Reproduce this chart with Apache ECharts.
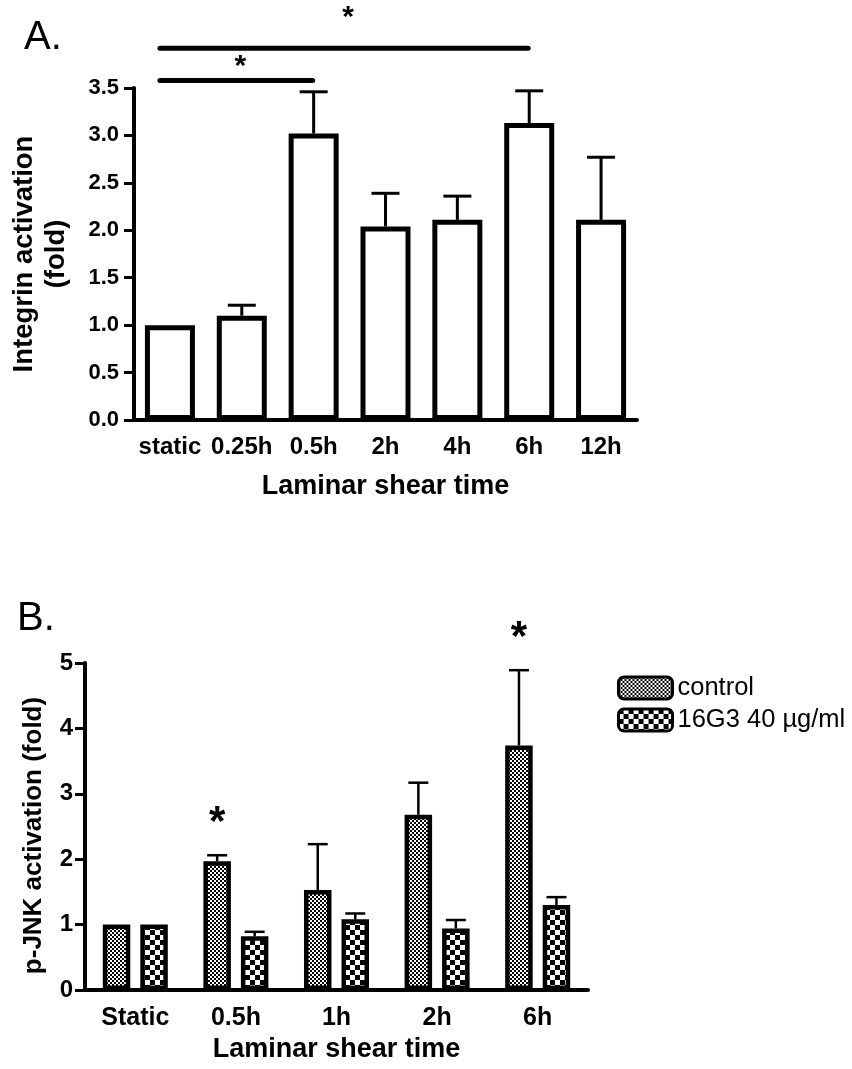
<!DOCTYPE html>
<html><head><meta charset="utf-8">
<script src="https://cdn.jsdelivr.net/npm/echarts@6/dist/echarts.min.js"></script>
<style>html,body{margin:0;padding:0;background:#fff}#c{width:852px;height:1069px}</style>
</head><body><div id="c"></div>
<script>
// ---------- Panel A data ----------
const catsA = ['static', '0.25h', '0.5h', '2h', '4h', '6h', '12h'];
const meanA = [1.00, 1.10, 3.02, 2.04, 2.11, 3.13, 2.11];
const errA  = [0.00, 0.11, 0.44, 0.35, 0.25, 0.34, 0.66];
// significance brackets: [fromIndex, toIndex, lineLevel, starLevel]
const bracketFromA = [0, 0];
const bracketToA   = [2, 5];
const bracketLvlA  = [3.58, 3.92];
const starLvlA     = [3.72, 4.24];

// ---------- Panel B data ----------
const catsB = ['Static', '0.5h', '1h', '2h', '6h'];
const ctrlB    = [1.00, 1.97, 1.53, 2.68, 3.74];
const ctrlErrB = [0.00, 0.09, 0.70, 0.49, 1.15];
const g16B     = [1.00, 0.82, 1.08, 0.94, 1.30];
const g16ErrB  = [0.00, 0.07, 0.09, 0.13, 0.12];
const sigB     = [false, true, false, false, true];
const seriesNamesB = ['control', '16G3 40 µg/ml'];

const FONT = '"Liberation Sans", Arial, Helvetica, sans-serif';

function checker(cell) {
  const c = document.createElement('canvas');
  c.width = c.height = cell * 2;
  const g = c.getContext('2d');
  g.fillStyle = '#fff'; g.fillRect(0, 0, cell * 2, cell * 2);
  g.fillStyle = '#000';
  g.fillRect(0, 0, cell, cell); g.fillRect(cell, cell, cell, cell);
  return { image: c, repeat: 'repeat' };
}
const patCtrl = checker(2);
const pat16 = checker(5);

const BW_B = 27.5, GAP_B = 10;
const OFF_B = (BW_B + GAP_B) / 2;

function errRender(offset, capHalf, lw, flags, starSize, starGap) {
  return function (params, api) {
    const i = api.value(0), m = api.value(1), e = api.value(2);
    const p0 = api.coord([i, m]);
    const p1 = api.coord([i, m + e]);
    const x = p0[0] + offset;
    const children = [];
    if (e > 0) {
      children.push({ type: 'line', shape: { x1: x, y1: p0[1], x2: x, y2: p1[1] }, style: { stroke: '#000', lineWidth: lw } });
      children.push({ type: 'line', shape: { x1: x - capHalf, y1: p1[1], x2: x + capHalf, y2: p1[1] }, style: { stroke: '#000', lineWidth: lw } });
    }
    if (flags && flags[params.dataIndex]) {
      children.push({ type: 'text', style: { text: '*', x: x, y: p1[1] - starGap, align: 'center', verticalAlign: 'middle', font: 'bold ' + starSize + 'px ' + FONT, fill: '#000' } });
    }
    return { type: 'group', children: children };
  };
}

const axisLineStyle = { lineStyle: { color: '#000', width: 4 } };
const tickStyle = { lineStyle: { color: '#000', width: 3 } };
const labelStyle = { color: '#000', fontWeight: 'bold', fontFamily: FONT };
const nameStyle = { color: '#000', fontWeight: 'bold', fontFamily: FONT };

const chart = echarts.init(document.getElementById('c'), null, { renderer: 'canvas' });
chart.setOption({
  backgroundColor: '#fff',
  animation: false,
  title: [
    { text: 'A.', left: 19, top: 13, textStyle: { fontSize: 40, fontWeight: 'normal', fontFamily: FONT, color: '#000' } },
    { text: 'B.', left: 12, top: 594, textStyle: { fontSize: 40, fontWeight: 'normal', fontFamily: FONT, color: '#000' } }
  ],
  legend: {
    data: seriesNamesB,
    orient: 'vertical', left: 612, top: 670,
    itemWidth: 54, itemHeight: 22, itemGap: 6,
    icon: 'roundRect',
    itemStyle: { borderColor: '#000', borderWidth: 3 },
    textStyle: { fontSize: 25.5, color: '#000', fontFamily: FONT }
  },
  grid: [
    { left: 130, top: 88, width: 507, height: 332 },
    { left: 85, top: 663, width: 503, height: 327 }
  ],
  xAxis: [
    {
      type: 'category', gridIndex: 0, data: catsA,
      axisLine: axisLineStyle,
      axisTick: Object.assign({ alignWithLabel: true, length: 9 }, tickStyle),
      axisLabel: Object.assign({ fontSize: 24, margin: 15, interval: 0 }, labelStyle),
      name: 'Laminar shear time', nameLocation: 'middle', nameGap: 53,
      nameTextStyle: Object.assign({ fontSize: 27 }, nameStyle)
    },
    {
      type: 'category', gridIndex: 1, data: catsB,
      axisLine: axisLineStyle,
      axisTick: Object.assign({ alignWithLabel: true, length: 9 }, tickStyle),
      axisLabel: Object.assign({ fontSize: 25, margin: 16, interval: 0 }, labelStyle),
      name: 'Laminar shear time', nameLocation: 'middle', nameGap: 46,
      nameTextStyle: Object.assign({ fontSize: 27 }, nameStyle)
    }
  ],
  yAxis: [
    {
      type: 'value', gridIndex: 0, min: 0, max: 3.5, interval: 0.5,
      axisLine: Object.assign({ show: true }, axisLineStyle),
      axisTick: Object.assign({ show: true, length: 10 }, tickStyle),
      splitLine: { show: false },
      axisLabel: Object.assign({ fontSize: 22, margin: 15, formatter: v => v.toFixed(1) }, labelStyle),
      name: 'Integrin activation\n(fold)', nameLocation: 'middle', nameGap: 62,
      nameTextStyle: Object.assign({ fontSize: 27.5, lineHeight: 32 }, nameStyle)
    },
    {
      type: 'value', gridIndex: 1, min: 0, max: 5, interval: 1,
      axisLine: Object.assign({ show: true }, axisLineStyle),
      axisTick: Object.assign({ show: true, length: 10 }, tickStyle),
      splitLine: { show: false },
      axisLabel: Object.assign({ fontSize: 24, margin: 12 }, labelStyle),
      name: 'p-JNK activation (fold)', nameLocation: 'middle', nameGap: 38,
      nameTextStyle: Object.assign({ fontSize: 26, padding: [0, 18, 0, 0] }, nameStyle)
    }
  ],
  series: [
    {
      type: 'bar', xAxisIndex: 0, yAxisIndex: 0, data: meanA, barWidth: 50,
      itemStyle: { color: '#fff', borderColor: '#000', borderWidth: 5 }, z: 2
    },
    {
      type: 'custom', xAxisIndex: 0, yAxisIndex: 0, z: 3, silent: true,
      data: catsA.map((c, i) => [i, meanA[i], errA[i]]),
      encode: { x: 0, y: 1 },
      renderItem: errRender(0, 14, 3, null, 0, 0)
    },
    {
      type: 'custom', xAxisIndex: 0, yAxisIndex: 0, z: 3, silent: true, clip: false,
      data: bracketFromA.map((f, k) => [f, bracketToA[k], bracketLvlA[k], starLvlA[k]]),
      encode: { x: 0, y: 2 },
      renderItem: function (params, api) {
        const a = api.coord([api.value(0), api.value(2)]);
        const b = api.coord([api.value(1), api.value(2)]);
        const s = api.coord([api.value(0), api.value(3)]);
        const x1 = a[0] - 10, x2 = b[0] - 1;
        return { type: 'group', children: [
          { type: 'line', shape: { x1: x1, y1: a[1], x2: x2, y2: b[1] }, style: { stroke: '#000', lineWidth: 5, lineCap: 'round' } },
          { type: 'text', style: { text: '*', x: (x1 + x2) / 2 + 4, y: s[1], align: 'center', verticalAlign: 'middle', font: 'bold 30px ' + FONT, fill: '#000' } }
        ] };
      }
    },
    {
      name: seriesNamesB[0], type: 'bar', xAxisIndex: 1, yAxisIndex: 1, data: ctrlB,
      barWidth: BW_B, barGap: (GAP_B / BW_B * 100).toFixed(1) + '%',
      itemStyle: { color: patCtrl, borderColor: '#000', borderWidth: 4.5 }, z: 2
    },
    {
      name: seriesNamesB[1], type: 'bar', xAxisIndex: 1, yAxisIndex: 1, data: g16B,
      barWidth: BW_B, barGap: (GAP_B / BW_B * 100).toFixed(1) + '%',
      itemStyle: { color: pat16, borderColor: '#000', borderWidth: 4.5 }, z: 2
    },
    {
      type: 'custom', xAxisIndex: 1, yAxisIndex: 1, z: 3, silent: true, clip: false,
      data: catsB.map((c, i) => [i, ctrlB[i], ctrlErrB[i]]),
      encode: { x: 0, y: 1 },
      renderItem: errRender(-OFF_B, 10, 2.5, sigB, 42, 32)
    },
    {
      type: 'custom', xAxisIndex: 1, yAxisIndex: 1, z: 3, silent: true,
      data: catsB.map((c, i) => [i, g16B[i], g16ErrB[i]]),
      encode: { x: 0, y: 1 },
      renderItem: errRender(OFF_B, 10, 2.5, null, 0, 0)
    }
  ]
});
</script>
</body></html>
